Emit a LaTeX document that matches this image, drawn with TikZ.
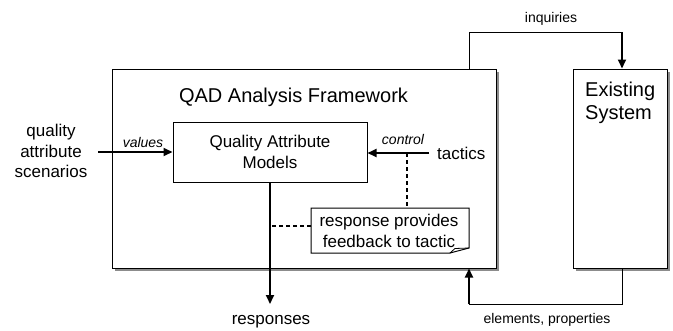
\documentclass[tikz,border=0pt]{standalone}
\usepackage{fontspec}
\setmainfont{Liberation Sans}
\usetikzlibrary{arrows.meta,calc}
\tikzset{
  box/.style={draw=black, line width=1pt, fill=white, inner sep=0pt},
  shadowbox/.style={fill=black!45, draw=none},
  thick arrow/.style={line width=2pt, -{Triangle[length=9pt,width=8pt]}},
  thin line/.style={line width=1pt},
  dashline/.style={line width=1.6pt, dash pattern=on 4pt off 3pt},
  big/.style={font=\fontsize{17}{20.5}\selectfont},
  small/.style={font=\fontsize{14}{16}\selectfont},
}
\begin{document}
\begin{tikzpicture}[x=1pt,y=-1pt]
\useasboundingbox (0,0) rectangle (673,330);
% shadows
\fill[shadowbox] (115,72) rectangle (499,271);
\fill[shadowbox] (576,72) rectangle (670,271);
% boxes
\node[box, minimum width=384pt, minimum height=199pt] (fw) at (304,168.5) {};
\node[box, minimum width=94pt, minimum height=199pt] (es) at (620,168.5) {};
\node[anchor=north west, inner sep=0pt, align=left, font=\fontsize{20}{23}\selectfont] (est) at (585,82) {Existing\\System};
\node[anchor=base, inner sep=0pt, font=\fontsize{20}{23}\selectfont] (title) at (293.5,102) {QAD Analysis Framework};
\node[box, minimum width=194pt, minimum height=60pt, big, align=center] (qam) at (270,152) {Quality Attribute\\Models};
% note with folded corner
\coordinate (n1) at (311,208);
\coordinate (n2) at (469,248);
\draw[thin line, fill=white] (n1) -- (469,208) -- (n2) -- (450,253) -- (311,253) -- cycle;
\draw[line width=0.8pt] (450,253) -- (455,248.5) -- (n2);
\node[inner sep=0pt, minimum width=158pt, minimum height=45pt, big, align=center] (note) at (389,231) {response provides\\feedback to tactic};
% left input
\node[big, align=center, inner sep=0pt] (scen) at (51,151) {quality\\attribute\\scenarios};
\coordinate (vs) at (98,152);
\draw[thick arrow] (vs) -- (qam.west);
\node[small, font=\fontsize{14}{16}\selectfont\itshape, anchor=base] (vals) at (143,147) {values};
% tactics
\node[big, anchor=west, inner xsep=8pt, inner ysep=0pt] (tac) at (429,153) {tactics};
\draw[thick arrow] (tac.west) -- (tac.west -| qam.east);
\node[font=\fontsize{14}{16}\selectfont\itshape, anchor=base] (ctl) at (403,144) {control};
\coordinate (cj) at (407,153);
\draw[dashline] (cj) -- (cj |- n1);
% responses
\coordinate (re) at (270,304);
\draw[thick arrow] (qam.south) -- (re);
\node[big, anchor=base] (resp) at (271,324) {responses};
\coordinate (nd) at (311,226);
\draw[dashline] (nd) -- (nd -| qam.south);
% inquiries
\coordinate (iq) at (469,32);
\coordinate (iq2) at (622,32);
\draw[thin line] (iq |- fw.north) -- (iq) -- (iq2);
\draw[thick arrow] (iq2) -- (iq2 |- es.north);
\node[small, anchor=base] (inq) at (551,22) {inquiries};
% elements, properties
\coordinate (ep) at (469,304);
\coordinate (ep2) at (622,304);
\draw[thin line] (ep2 |- es.south) -- (ep2) -- (ep);
\draw[thick arrow] (ep) -- (ep |- fw.south);
\node[small, anchor=base] (elp) at (547,323) {elements, properties};
\end{tikzpicture}
\end{document}
